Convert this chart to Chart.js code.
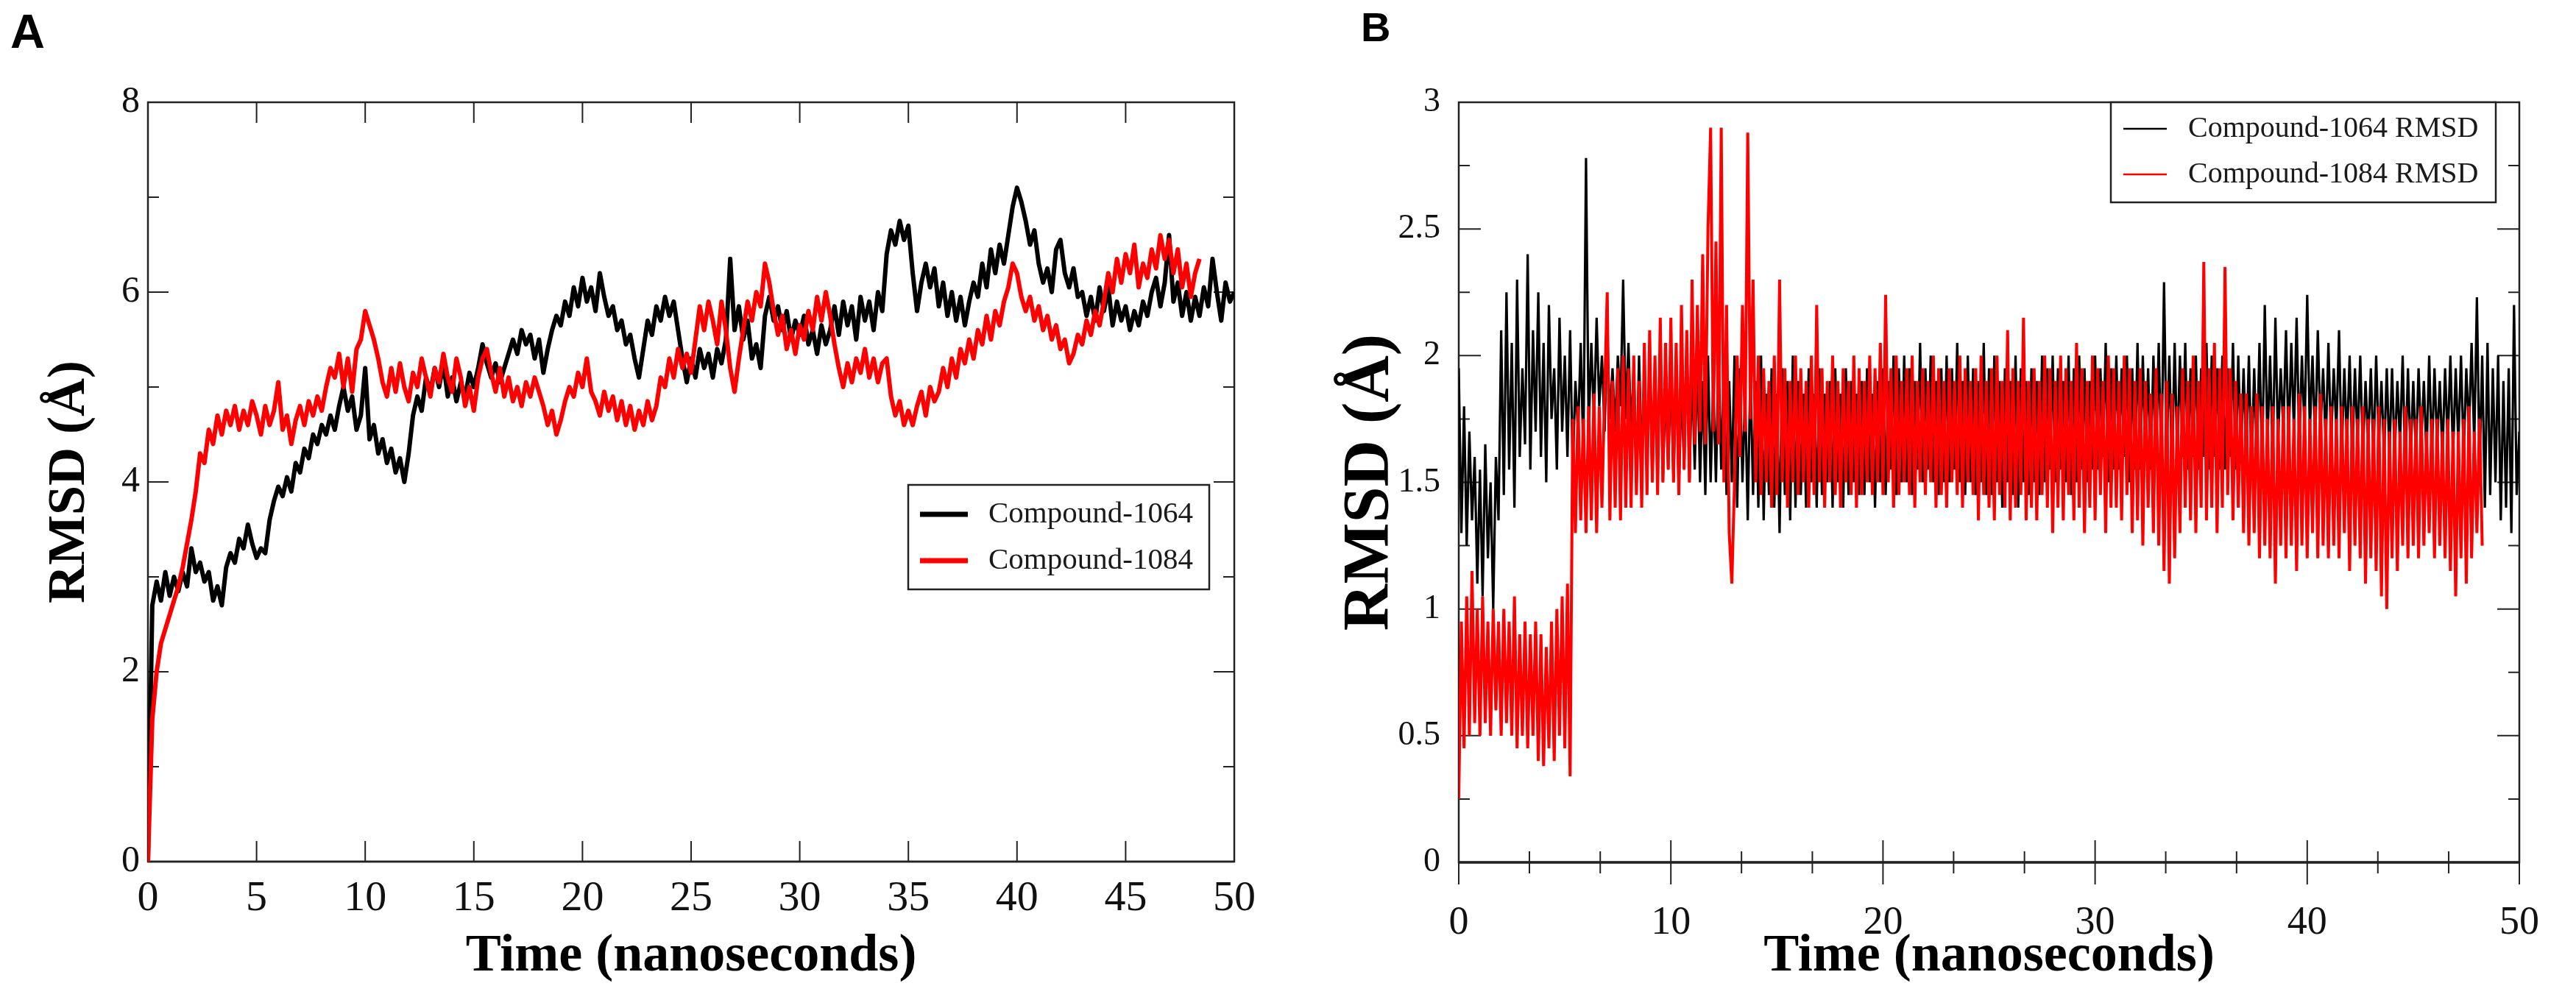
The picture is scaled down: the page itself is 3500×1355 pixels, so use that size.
<!DOCTYPE html>
<html><head><meta charset="utf-8">
<script src="https://cdn.jsdelivr.net/npm/chart.js@4.4.0/dist/chart.umd.min.js"></script>
<style>
html,body{margin:0;padding:0;background:#fff;width:3500px;height:1355px;overflow:hidden}
.panel{position:absolute;top:0;width:1750px;height:1355px}
#pa{left:0}#pb{left:1750px}
</style></head><body>
<div class="panel" id="pa"><canvas id="ca" width="1750" height="1355"></canvas></div>
<div class="panel" id="pb"><canvas id="cb" width="1750" height="1355"></canvas></div>
<script>
// ---------- DATA ----------
const seriesNames = ['Compound-1064', 'Compound-1084'];
const seriesNamesB = ['Compound-1064 RMSD', 'Compound-1084 RMSD'];
const timeStepA = 0.2;   // ns between samples, panel A
const timeStepB = 0.125; // ns between samples, panel B

const xTicksA = [0, 5, 10, 15, 20, 25, 30, 35, 40, 45, 50];
const yTicksA = [0, 2, 4, 6, 8];
const yMinorA = [1, 3, 5, 7];
const xTicksB = [0, 10, 20, 30, 40, 50];
const xMinorB = [3.33, 6.67, 13.33, 16.67, 23.33, 26.67, 33.33, 36.67, 43.33, 46.67];
const yTicksB = [0, 0.5, 1, 1.5, 2, 2.5, 3];
const yMinorB = [0.25, 0.75, 1.25, 1.75, 2.25, 2.75];

const rmsdA1064 = [0,2.7,2.95,2.75,3.05,
2.8,3.0,2.85,3.05,2.9, 3.3,3.05,3.15,2.95,3.05, 2.75,2.9,2.7,3.1,3.25, 3.15,3.4,3.3,3.55,3.35,
3.2,3.3,3.25,3.6,3.8, 3.95,3.85,4.05,3.9,4.2, 4.1,4.35,4.25,4.5,4.4, 4.6,4.5,4.7,4.55,4.8,
5.0,4.75,4.9,4.55,4.7, 5.2,4.45,4.6,4.3,4.45, 4.2,4.35,4.1,4.25,4.0, 4.3,4.7,4.9,4.75,5.1,
4.95,5.2,5.0,5.25,4.9, 5.1,4.85,5.05,4.9,5.15, 5.0,5.2,5.45,5.25,5.1, 5.25,5.05,5.2,5.35,5.5,
5.35,5.6,5.45,5.55,5.3, 5.5,5.15,5.4,5.6,5.75, 5.65,5.9,5.75,6.05,5.85, 6.15,5.9,6.05,5.8,6.2,
5.95,5.75,5.85,5.6,5.7, 5.45,5.55,5.3,5.1,5.4, 5.7,5.55,5.85,5.7,5.95, 5.75,5.9,5.6,5.3,5.05,
5.3,5.1,5.4,5.2,5.35, 5.1,5.4,5.25,5.5,6.35, 5.6,5.85,5.5,5.7,5.3, 5.45,5.2,5.75,5.95,5.7,
5.85,5.6,5.8,5.5,5.7, 5.55,5.75,5.45,5.6,5.35, 5.65,5.45,5.6,5.85,5.55, 5.9,5.65,5.85,5.5,5.95,
5.7,5.9,5.6,6.0,5.8, 6.4,6.65,6.5,6.75,6.55, 6.7,6.2,5.8,6.1,6.3, 6.05,6.25,5.85,6.1,5.75,
6.0,5.7,5.95,5.65,5.9, 6.1,5.95,6.3,6.05,6.45, 6.2,6.5,6.3,6.6,6.9, 7.1,6.95,6.75,6.5,6.65,
6.3,6.1,6.25,6.0,6.45, 6.55,6.2,6.05,6.25,5.95, 6.0,5.75,5.95,5.7,6.05, 5.8,6.05,5.65,5.9,5.7,
5.85,5.6,5.8,5.65,5.9, 5.75,6.0,6.15,5.85,6.1, 6.6,5.9,6.1,5.75,6.0, 5.7,5.95,5.75,6.05,5.85,
6.35,6.0,5.7,6.1,5.9, 6.0];

const rmsdA1084 = [0,1.5,2.0,2.3,2.45,
2.6,2.75,2.9,3.1,3.35, 3.6,3.9,4.3,4.2,4.55, 4.4,4.7,4.5,4.75,4.6, 4.8,4.55,4.75,4.6,4.85,
4.7,4.5,4.8,4.6,4.75, 5.05,4.55,4.7,4.4,4.65, 4.8,4.6,4.85,4.7,4.9, 4.75,5.0,5.2,5.1,5.35,
5.0,5.3,4.95,5.4,5.5, 5.8,5.65,5.5,5.3,5.05, 4.9,5.2,4.95,5.25,5.0, 4.85,5.15,5.0,5.3,5.1,
4.9,5.2,5.05,5.35,5.1, 4.95,5.3,5.1,4.8,5.0, 4.75,5.1,5.3,5.4,5.15, 4.95,5.2,4.9,5.1,4.85,
5.0,4.8,5.05,4.9,5.1, 4.95,4.8,4.6,4.75,4.5, 4.65,4.85,5.0,4.9,5.15, 5.0,5.3,4.95,4.85,4.7,
4.95,4.75,4.9,4.65,4.85, 4.6,4.8,4.55,4.75,4.6, 4.85,4.65,4.8,5.1,5.0, 5.3,5.1,5.4,5.2,5.35,
5.15,5.5,5.85,5.6,5.9, 5.7,5.45,5.9,5.6,5.2, 4.95,5.3,5.6,5.9,5.7, 6.0,5.85,6.3,6.1,5.8,
5.55,5.75,5.4,5.6,5.35, 5.65,5.5,5.8,5.6,5.95, 5.7,6.0,5.75,5.45,5.2, 5.0,5.25,5.05,5.3,5.15,
5.4,5.1,5.3,5.05,5.25, 5.3,4.9,4.7,4.85,4.6, 4.75,4.6,4.8,4.95,4.7, 5.0,4.85,4.95,5.2,5.0,
5.3,5.1,5.4,5.25,5.5, 5.3,5.6,5.45,5.75,5.5, 5.8,5.65,5.9,6.05,6.3, 6.2,5.95,5.8,5.95,5.7,
5.85,5.6,5.75,5.5,5.65, 5.4,5.5,5.25,5.35,5.55, 5.45,5.7,5.55,5.8,5.65, 5.9,6.2,6.0,6.35,6.1,
6.4,6.2,6.5,6.05,6.3, 6.15,6.45,6.25,6.6,6.35, 6.55,6.2,6.45,6.05,6.3, 5.95,6.2,6.35];

const rmsdB1064 = [
1.95,1.3,1.8,1.25,1.7,1.35,1.6,1.1, 1.55,1.05,1.65,1.2,1.5,1.0,1.6,1.35,
2.1,1.45,2.25,1.55,2.05,1.4,2.3,1.6, 1.95,1.65,2.4,1.55,2.1,1.7,2.25,1.6,
2.05,1.5,2.2,1.75,1.95,1.55,2.15,1.7, 2.0,1.6,2.1,1.55,1.9,1.7,2.05,1.6,
2.78,1.7,2.05,1.75,2.15,1.8,2.0,1.7, 2.1,1.75,1.95,1.7,2.0,1.8,2.3,1.75,
2.05,1.7,1.95,1.5,2.0,1.6,1.9,1.55, 2.0,1.5,1.95,1.6,2.05,1.5,1.9,1.55,
1.95,1.5,2.0,1.45,1.9,1.55,2.05,1.5, 1.95,1.55,2.0,1.5,1.9,1.45,2.0,1.5,
1.9,1.5,2.0,1.55,1.95,1.45,1.9,1.5, 2.0,1.4,1.95,1.5,1.85,1.35,1.95,1.45,
1.9,1.4,2.0,1.35,1.85,1.45,1.95,1.4, 1.85,1.3,1.95,1.45,1.9,1.35,2.0,1.4,
1.9,1.45,1.85,1.4,1.95,1.5,1.85,1.4, 1.95,1.45,1.85,1.5,1.9,1.4,1.95,1.5,
1.85,1.4,1.95,1.45,1.9,1.5,1.85,1.45, 1.9,1.45,1.95,1.5,1.85,1.4,1.9,1.5,
1.95,1.45,1.9,1.55,2.0,1.45,1.95,1.5, 2.0,1.5,1.95,1.45,1.9,1.55,2.05,1.5,
1.95,1.55,2.0,1.5,1.9,1.45,1.95,1.5, 2.0,1.5,1.95,1.55,2.05,1.5,1.9,1.45,
2.0,1.5,1.95,1.45,1.9,1.5,2.05,1.45, 1.95,1.45,2.0,1.5,1.9,1.4,1.95,1.5,
1.9,1.45,2.0,1.4,1.95,1.5,1.9,1.45, 1.95,1.5,1.9,1.45,2.0,1.5,1.95,1.55,
2.0,1.5,1.95,1.55,1.9,1.5,2.0,1.45, 1.95,1.5,2.0,1.55,1.95,1.5,1.9,1.55,
2.0,1.55,1.95,1.6,2.05,1.5,1.95,1.55, 2.0,1.55,1.95,1.6,2.0,1.5,1.95,1.55,
2.05,1.55,2.0,1.6,1.95,1.55,2.0,1.6, 2.05,1.55,2.29,1.6,2.0,1.55,2.05,1.6,
2.0,1.6,2.05,1.55,1.95,1.6,2.0,1.55, 1.95,1.6,2.05,1.55,2.0,1.6,1.95,1.55,
2.0,1.55,1.95,1.6,2.05,1.55,2.0,1.6, 1.95,1.6,2.0,1.55,1.95,1.6,2.05,1.55,
2.2,1.65,2.0,1.6,2.15,1.65,1.95,1.7, 2.1,1.65,2.05,1.7,2.15,1.65,2.0,1.7,
2.24,1.7,2.0,1.65,2.1,1.7,1.95,1.65, 2.05,1.65,1.95,1.7,2.1,1.6,1.95,1.65,
2.0,1.6,1.95,1.65,2.0,1.6,1.9,1.65, 1.95,1.6,2.0,1.65,1.9,1.6,1.95,1.6,
1.95,1.6,1.9,1.65,2.0,1.55,1.95,1.6, 1.9,1.6,1.95,1.65,1.9,1.6,2.0,1.6,
1.95,1.65,1.9,1.6,1.95,1.65,2.0,1.6, 1.95,1.65,2.0,1.6,1.95,1.7,2.05,1.65,
2.23,1.55,2.0,1.4,2.05,1.45,1.95,1.5, 2.0,1.35,1.9,1.4,1.95,1.3,2.2,1.45,
1.7];

const rmsdB1084 = [
0.25,0.95,0.45,1.05,0.5,1.15,0.55,1.0, 0.5,1.05,0.55,0.95,0.5,1.0,0.6,0.95,
0.5,1.0,0.55,0.95,0.5,1.05,0.45,0.9, 0.5,0.95,0.45,0.9,0.5,0.95,0.4,0.9,
0.38,0.85,0.45,0.95,0.4,1.0,0.5,1.05, 0.45,1.1,0.34,1.75,1.3,1.8,1.35,1.75,
1.3,1.8,1.35,1.85,1.3,1.8,1.4,1.85, 2.25,1.35,1.9,1.4,1.95,1.35,2.0,1.4,
1.95,1.4,2.0,1.45,1.9,1.4,2.05,1.45, 2.1,1.5,2.0,1.45,2.15,1.5,2.05,1.55,
2.15,1.5,2.05,1.45,2.2,1.55,2.1,1.5, 2.3,1.65,2.2,1.7,2.4,1.65,2.5,2.9,
1.7,2.45,1.65,2.9,1.5,2.2,1.3,1.1, 1.5,2.0,1.6,2.2,1.7,2.88,1.75,2.3,
1.5,2.0,1.45,1.95,1.5,1.9,1.4,2.0, 1.45,2.3,1.5,1.95,1.4,1.9,1.5,2.0,
1.45,1.95,1.5,1.9,1.4,2.0,1.45,2.2, 1.5,1.95,1.4,1.9,1.5,2.0,1.45,1.9,
1.4,1.95,1.5,1.9,1.45,2.0,1.4,1.95, 1.45,1.9,1.5,2.0,1.45,1.95,1.5,2.05,
1.45,2.24,1.5,1.95,1.4,2.0,1.45,1.9, 1.5,1.95,1.45,2.0,1.4,1.9,1.5,1.95,
1.45,1.9,1.5,2.0,1.4,1.95,1.45,1.9, 1.4,1.95,1.5,1.9,1.45,2.0,1.4,1.95,
1.5,1.9,1.45,1.95,1.35,2.0,1.45,1.9, 1.4,1.95,1.35,2.0,1.45,1.9,1.4,2.1,
1.35,1.95,1.4,1.9,1.45,2.15,1.35,1.9, 1.4,1.95,1.35,1.9,1.45,2.0,1.4,1.95,
1.3,1.9,1.4,2.0,1.35,1.95,1.45,1.9, 1.35,2.05,1.4,1.95,1.3,1.9,1.4,2.0,
1.35,1.95,1.45,1.9,1.3,2.0,1.4,1.95, 1.4,1.9,1.35,2.0,1.45,1.95,1.3,1.9,
1.35,1.95,1.25,1.9,1.4,1.85,1.3,1.95, 1.25,1.85,1.15,1.9,1.1,1.85,1.2,1.8,
1.3,1.95,1.4,1.9,1.35,2.0,1.3,1.9, 1.4,2.37,1.35,1.95,1.4,2.05,1.3,1.95,
1.4,2.35,1.45,1.95,1.35,1.9,1.4,1.85, 1.3,1.85,1.25,1.8,1.3,1.85,1.2,1.8,
1.25,1.75,1.2,1.8,1.1,1.75,1.25,1.8, 1.2,1.8,1.25,1.75,1.15,1.85,1.25,1.8,
1.2,1.75,1.3,1.8,1.2,1.85,1.25,1.75, 1.2,1.8,1.25,1.75,1.2,1.8,1.3,1.75,
1.15,1.8,1.25,1.75,1.2,1.8,1.1,1.75, 1.2,1.75,1.15,1.8,1.05,1.75,1.0,1.7,
1.2,1.75,1.15,1.7,1.25,1.8,1.2,1.75, 1.25,1.75,1.2,1.8,1.25,1.7,1.3,1.75,
1.2,1.75,1.25,1.7,1.2,1.75,1.15,1.7, 1.05,1.7,1.2,1.75,1.1,1.8,1.2,1.7,
1.3,1.75,1.25];

// ---------- HELPERS ----------
const toPoints = (vals, step) => vals.map((v, i) => ({x: +(i * step).toFixed(4), y: v}));
const SERIF = "'Liberation Serif', 'Times New Roman', serif";
const fmt = v => String(+(+v).toFixed(2));

const framePlugin = {
  id: 'frame',
  beforeDatasetsDraw(chart, args, o) {
    const {ctx, chartArea: a, scales: {x, y}} = chart;
    ctx.save();
    ctx.strokeStyle = '#222';
    ctx.lineCap = 'butt';
    ctx.lineWidth = o.tickWidth;
    ctx.beginPath();
    const xt = (list, len) => list.forEach(v => {
      const px = x.getPixelForValue(v);
      ctx.moveTo(px, a.bottom + (o.crossBottom ? len : 0));
      ctx.lineTo(px, a.bottom - len);
      if (o.topTicks) { ctx.moveTo(px, a.top); ctx.lineTo(px, a.top + len); }
    });
    const yt = (list, len) => list.forEach(v => {
      const py = y.getPixelForValue(v);
      ctx.moveTo(a.left, py); ctx.lineTo(a.left + len, py);
      ctx.moveTo(a.right, py); ctx.lineTo(a.right - len, py);
    });
    xt(o.xMajor, o.majorLen); xt(o.xMinor, o.minorLen);
    yt(o.yMajor, o.majorLen); yt(o.yMinor, o.minorLen);
    ctx.stroke();
    ctx.lineWidth = o.lineWidth;
    ctx.strokeRect(a.left, a.top, a.right - a.left, a.bottom - a.top);
    ctx.lineWidth = o.bottomWidth;
    ctx.beginPath(); ctx.moveTo(a.left, a.bottom); ctx.lineTo(a.right, a.bottom); ctx.stroke();
    ctx.restore();
  }
};

const boxLegend = {
  id: 'boxLegend',
  afterDatasetsDraw(chart, args, o) {
    const {ctx} = chart;
    const [x1, y1, x2, y2] = o.box;
    ctx.save();
    ctx.fillStyle = '#fff';
    ctx.fillRect(x1, y1, x2 - x1, y2 - y1);
    ctx.strokeStyle = '#222'; ctx.lineWidth = 2.5;
    ctx.strokeRect(x1, y1, x2 - x1, y2 - y1);
    chart.data.datasets.forEach((ds, i) => {
      const yy = o.rows[i];
      ctx.strokeStyle = ds.borderColor; ctx.lineWidth = o.sampleWidth;
      ctx.beginPath(); ctx.moveTo(o.sample[0], yy); ctx.lineTo(o.sample[1], yy); ctx.stroke();
      ctx.fillStyle = '#1a1a1a'; ctx.font = o.font; ctx.textBaseline = 'middle'; ctx.textAlign = 'left';
      ctx.fillText(ds.label, o.textX, yy);
    });
    ctx.restore();
  }
};

const panelLetter = {
  id: 'panelLetter',
  afterDraw(chart, args, o) {
    const {ctx} = chart;
    ctx.save();
    ctx.fillStyle = '#000'; ctx.font = o.font; ctx.textBaseline = 'alphabetic'; ctx.textAlign = 'left';
    ctx.fillText(o.text, o.x, o.y);
    ctx.restore();
  }
};

function axisTicks(list) { return scale => { scale.ticks = list.map(v => ({value: v})); }; }

// ---------- PANEL A ----------
new Chart(document.getElementById('ca'), {
  type: 'line',
  data: {datasets: [
    {label: seriesNames[0], data: toPoints(rmsdA1064, timeStepA), borderColor: '#000000', borderWidth: 6, order: 1},
    {label: seriesNames[1], data: toPoints(rmsdA1084, timeStepA), borderColor: '#ff0000', borderWidth: 6, order: 0}
  ]},
  plugins: [framePlugin, boxLegend, panelLetter],
  options: {
    responsive: false, animation: false, devicePixelRatio: 1,
    layout: {padding: {left: 0, right: 73, top: 139, bottom: 0}},
    elements: {point: {radius: 0}, line: {tension: 0, borderJoinStyle: 'round', fill: false}},
    plugins: {
      legend: {display: false}, tooltip: {enabled: false},
      frame: {xMajor: xTicksA, xMinor: [], yMajor: yTicksA, yMinor: yMinorA, majorLen: 28, minorLen: 15,
              topTicks: true, crossBottom: false, lineWidth: 2.5, bottomWidth: 2.5, tickWidth: 2},
      boxLegend: {box: [1234, 659, 1643, 801], rows: [699, 762], sample: [1250, 1315], sampleWidth: 7,
                  textX: 1343, font: "41px " + SERIF},
      panelLetter: {text: 'A', x: 14, y: 65, font: "bold 65px 'Liberation Sans', Arial, sans-serif"}
    },
    scales: {
      x: {type: 'linear', min: 0, max: 50, afterBuildTicks: axisTicks(xTicksA),
          afterFit: s => { s.height = 184; },
          grid: {display: false, drawTicks: false}, border: {display: false},
          ticks: {font: {family: SERIF, size: 58}, color: '#111', padding: 16, maxRotation: 0, autoSkip: false, callback: fmt},
          title: {display: true, text: 'Time (nanoseconds)', color: '#000',
                  font: {family: SERIF, size: 72, weight: 'bold'}, padding: {top: 0, bottom: 11}}},
      y: {type: 'linear', min: 0, max: 8, afterBuildTicks: axisTicks(yTicksA),
          afterFit: s => { s.width = 201; },
          grid: {display: false, drawTicks: false}, border: {display: false},
          ticks: {font: {family: SERIF, size: 50}, color: '#111', padding: 11, autoSkip: false, callback: fmt},
          title: {display: true, text: 'RMSD (Å)', color: '#000',
                  font: {family: SERIF, size: 72, weight: 'bold'}, padding: {top: 52, bottom: 0}}}
    }
  }
});

// ---------- PANEL B ----------
new Chart(document.getElementById('cb'), {
  type: 'line',
  data: {datasets: [
    {label: seriesNamesB[0], data: toPoints(rmsdB1064, timeStepB), borderColor: '#000000', borderWidth: 3.2, order: 1},
    {label: seriesNamesB[1], data: toPoints(rmsdB1084, timeStepB), borderColor: '#ff0000', borderWidth: 4.0, order: 0}
  ]},
  plugins: [framePlugin, boxLegend, panelLetter],
  options: {
    responsive: false, animation: false, devicePixelRatio: 1,
    layout: {padding: {left: 0, right: 40, top: 139, bottom: 0}},
    elements: {point: {radius: 0}, line: {tension: 0, borderJoinStyle: 'bevel', fill: false}},
    plugins: {
      legend: {display: false}, tooltip: {enabled: false},
      frame: {xMajor: xTicksB, xMinor: xMinorB, yMajor: yTicksB, yMinor: yMinorB, majorLen: 30, minorLen: 15,
              topTicks: false, crossBottom: true, lineWidth: 2.5, bottomWidth: 3.5, tickWidth: 2},
      boxLegend: {box: [1118, 139, 1641, 275], rows: [175, 237], sample: [1135, 1194], sampleWidth: 2.5,
                  textX: 1223, font: "40px " + SERIF},
      panelLetter: {text: 'B', x: 99, y: 56, font: "bold 56px 'Liberation Sans', Arial, sans-serif"}
    },
    scales: {
      x: {type: 'linear', min: 0, max: 50, afterBuildTicks: axisTicks(xTicksB),
          afterFit: s => { s.height = 183; },
          grid: {display: false, drawTicks: false}, border: {display: false},
          ticks: {font: {family: SERIF, size: 54}, color: '#111', padding: 50, maxRotation: 0, autoSkip: false, callback: fmt},
          title: {display: true, text: 'Time (nanoseconds)', color: '#000',
                  font: {family: SERIF, size: 72, weight: 'bold'}, padding: {top: 0, bottom: 11}}},
      y: {type: 'linear', min: 0, max: 3, afterBuildTicks: axisTicks(yTicksB),
          afterFit: s => { s.width = 232; },
          grid: {display: false, drawTicks: false}, border: {display: false},
          ticks: {font: {family: SERIF, size: 46}, color: '#111', padding: 25, autoSkip: false, callback: fmt},
          title: {display: true, text: 'RMSD (Å)', color: '#000',
                  font: {family: SERIF, size: 88, weight: 'bold'}, padding: {top: 59, bottom: 0}}}
    }
  }
});
</script>
</body></html>
